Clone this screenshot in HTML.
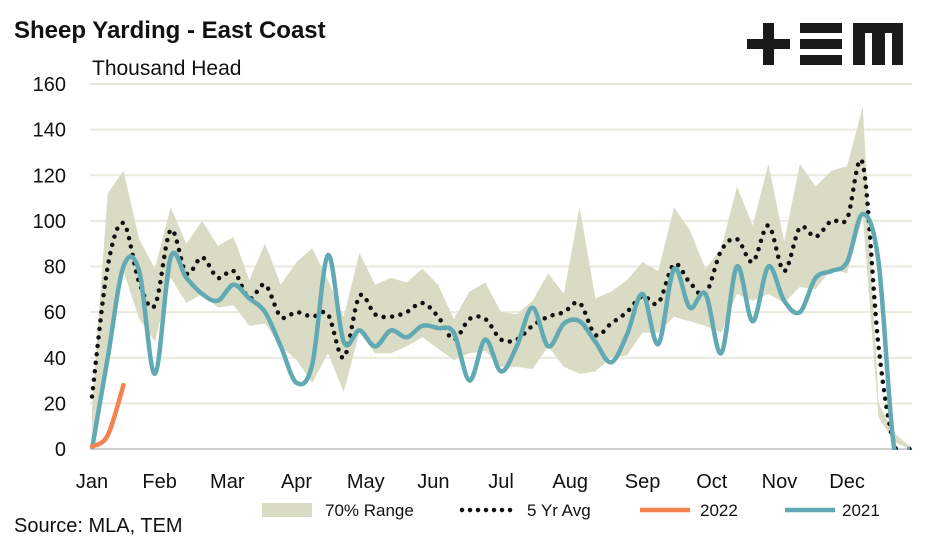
<!DOCTYPE html>
<html><head><meta charset="utf-8"><style>
body{margin:0;background:#fff;}
svg{display:block;font-family:"Liberation Sans",sans-serif;}
</style></head><body>
<svg id="chart" width="947" height="543">
<defs><clipPath id="plotclip"><rect x="85" y="60" width="840" height="390"/></clipPath></defs>
<text x="14" y="38" font-size="24" font-weight="bold" fill="#111">Sheep Yarding - East Coast</text>
<text x="92" y="75" font-size="21" fill="#111">Thousand Head</text>
<g fill="#1a1a1a">
<rect x="747" y="39" width="43" height="10"/><rect x="763" y="23" width="11" height="42"/>
<rect x="800" y="23" width="42" height="10"/><rect x="800" y="39" width="42" height="10"/><rect x="800" y="55" width="42" height="10"/>
<path d="M853 23H903V65H892V33H885V65H872V33H865V65H853Z"/>
</g>
<g id="grid"></g>
<g id="marks" clip-path="url(#plotclip)"></g>
<text x="14" y="532" font-size="20" fill="#111">Source: MLA, TEM</text>
<g font-size="17" fill="#111">
<rect x="262" y="503" width="50" height="14" fill="#dadbc4"/>
<text x="325" y="516">70% Range</text>
<line x1="462" y1="510" x2="516" y2="510" stroke="#111" stroke-width="4.5" stroke-linecap="round" stroke-dasharray="0 8"/>
<text x="527" y="516">5 Yr Avg</text>
<line x1="640" y1="510" x2="690" y2="510" stroke="#f4824f" stroke-width="4.5"/>
<text x="700" y="516">2022</text>
<line x1="785" y1="510" x2="835" y2="510" stroke="#62aab3" stroke-width="4.5"/>
<text x="842" y="516">2021</text>
</g>
</svg>
<script>
const yTicks=[0,20,40,60,80,100,120,140,160];
const months=["Jan","Feb","Mar","Apr","May","Jun","Jul","Aug","Sep","Oct","Nov","Dec"];
const monthWeeks=[0,4.3,8.6,13,17.4,21.7,26,30.4,35,39.4,43.7,48];
const rangeUpper=[18,112,122,92,79,106,90,100,89,93,74,90,72,82,88,74,58,86,72,75,73,79,72,57,69,73,60,59,65,77,68,106,66,69,74,82,78,106,96,79,88,115,98,125,91,125,115,122,124,150,20,7,1];
const rangeLower=[0,40,78,57,47,75,64,68,62,63,54,55,45,39,29,42,25,51,42,42,45,49,44,39,42,43,36,36,35,45,36,33,34,40,41,51,51,58,56,54,51,68,65,68,64,71,70,79,77,102,14,3,0];
const avg5=[23,80,99,73,63,96,77,84,75,78,66,72,58,60,58,59,40,67,59,58,60,64,58,48,57,57,48,48,54,58,60,64,50,55,60,67,64,81,73,68,87,92,82,98,78,97,93,100,101,125,45,2,0];
const y2021=[0,40,80,78,33,84,75,68,65,72,66,60,45,29,37,85,47,52,45,52,49,54,53,51,30,48,34,45,62,45,55,56,47,38,50,68,46,79,62,68,42,80,56,80,65,60,75,78,82,103,82,0,0];
const y2022Weeks=[0,1,2];
const y2022=[1,6,28];
const X=w=>92+w*(818/52);
const Y=v=>449-v*(365/160);
const NS="http://www.w3.org/2000/svg";
const grid=document.getElementById('grid'),marks=document.getElementById('marks');
function mk(tag,attrs,parent){const e=document.createElementNS(NS,tag);for(const k in attrs)e.setAttribute(k,attrs[k]);parent.appendChild(e);return e;}
yTicks.forEach(t=>{
 const l=mk('line',{x1:90,x2:912,y1:Y(t),y2:Y(t),stroke:t===0?'#d0d0d0':'#ebe9dd','stroke-width':2},grid);
 
 
 const tx=mk('text',{x:66,y:Y(t)+7,'text-anchor':'end','font-size':20,fill:'#111'},grid);
 tx.textContent=t;
 
 
});
months.forEach((m,i)=>{
 const tx=mk('text',{x:X(monthWeeks[i]),y:488,'text-anchor':'middle','font-size':20,fill:'#111'},grid);
 tx.textContent=m;
 
 
});
function smooth(pts){let d='M'+pts[0][0]+' '+pts[0][1];for(let i=0;i<pts.length-1;i++){const p0=pts[i-1]||pts[i],p1=pts[i],p2=pts[i+1],p3=pts[i+2]||p2;const c1x=p1[0]+(p2[0]-p0[0])/6,c1y=p1[1]+(p2[1]-p0[1])/6,c2x=p2[0]-(p3[0]-p1[0])/6,c2y=p2[1]-(p3[1]-p1[1])/6;d+=` C${c1x} ${c1y} ${c2x} ${c2y} ${p2[0]} ${p2[1]}`;}return d;}
let bd='';rangeUpper.forEach((v,i)=>bd+=(i?'L':'M')+X(i)+' '+Y(v));
for(let i=rangeLower.length-1;i>=0;i--)bd+='L'+X(i)+' '+Y(rangeLower[i]);
const band=mk('path',{d:bd+'Z',fill:'#dadbc4'},marks);


const a=mk('path',{d:smooth(avg5.map((v,i)=>[X(i),Y(v)])),fill:'none',stroke:'#111','stroke-width':4.5,'stroke-linecap':'round','stroke-dasharray':'0 8.5'},marks);


const b=mk('path',{d:smooth(y2021.map((v,i)=>[X(i),Y(Math.max(v,0))])),fill:'none',stroke:'#62aab3','stroke-width':4.5,'stroke-linejoin':'round'},marks);


const c=mk('path',{d:smooth(y2022.map((v,i)=>[X(y2022Weeks[i]),Y(v)])),fill:'none',stroke:'#f4824f','stroke-width':4.5,'stroke-linecap':'round'},marks);


</script>
</body></html>
